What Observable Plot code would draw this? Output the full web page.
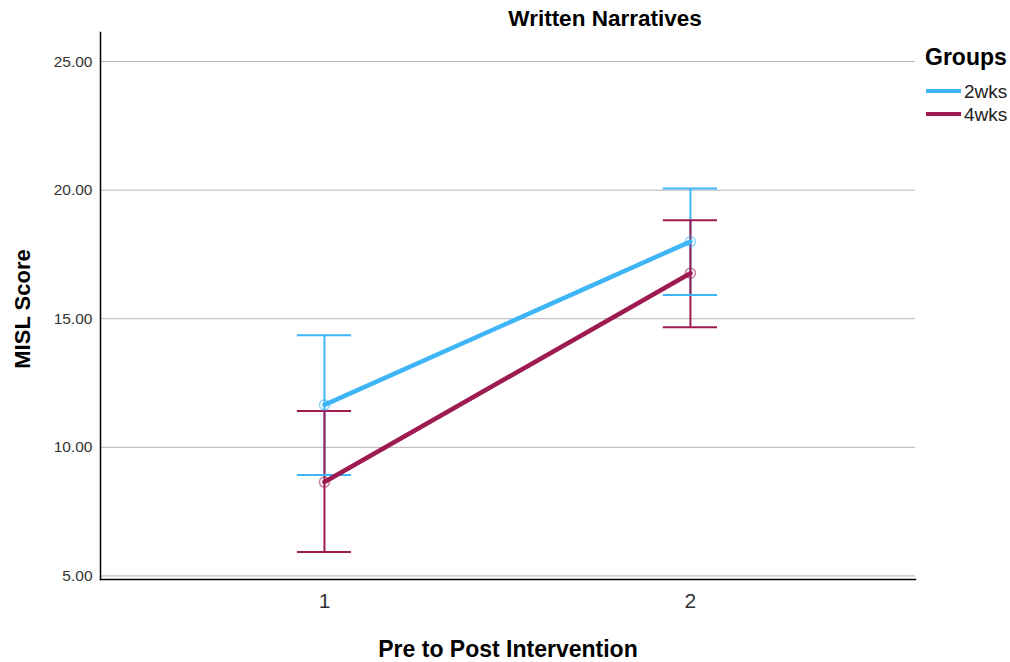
<!DOCTYPE html>
<html>
<head>
<meta charset="utf-8">
<script src="https://cdn.jsdelivr.net/npm/d3@7"></script>
<script src="https://cdn.jsdelivr.net/npm/@observablehq/plot@0.6"></script>
<style>
  html, body { margin: 0; padding: 0; background: #fff; }
  #chart { width: 1010px; height: 662px; }
</style>
</head>
<body>
<div id="chart"></div>
<script>
const groups = ["2wks", "4wks"];
const colors = ["#3db5f7", "#9e1b52"];
const times = [1, 2];
const means2wks = [11.65, 18.0];
const lower2wks = [8.92, 15.92];
const upper2wks = [14.36, 20.06];
const means4wks = [8.65, 16.77];
const lower4wks = [5.93, 14.67];
const upper4wks = [11.41, 18.83];
const yTicks = [5, 10, 15, 20, 25];
const xTicks = [1, 2];

const title = "Written Narratives";
const xLabel = "Pre to Post Intervention";
const yLabel = "MISL Score";
const legendTitle = "Groups";

const rows = [];
times.forEach((t, i) => {
  rows.push({group: "2wks", t, mean: means2wks[i], lo: lower2wks[i], hi: upper2wks[i]});
});
times.forEach((t, i) => {
  rows.push({group: "4wks", t, mean: means4wks[i], lo: lower4wks[i], hi: upper4wks[i]});
});

const capHalf = 0.074;
const font = "'Liberation Sans', Arial, sans-serif";

const plot = Plot.plot({
  width: 1010,
  height: 662,
  marginLeft: 100,
  marginRight: 95,
  marginTop: 32,
  marginBottom: 83,
  style: {fontFamily: font, background: "#fff"},
  x: {domain: [0.388, 2.615], ticks: xTicks, tickFormat: d => String(d), tickSize: 0, tickPadding: 16, label: null},
  y: {domain: [4.86, 26.13], ticks: yTicks, tickFormat: d3.format(".2f"), tickSize: 0, tickPadding: 8, label: null},
  color: {domain: groups, range: colors},
  marks: [
    Plot.ruleY(yTicks, {stroke: "#b3b3b3", strokeWidth: 1}),
    Plot.axisY({ticks: yTicks, tickFormat: d3.format(".2f"), tickSize: 0, tickPadding: 8, fontSize: 15.5, fill: "#333", label: null}),
    Plot.axisX({ticks: xTicks, tickFormat: d => String(d), tickSize: 0, tickPadding: 14, fontSize: 21, fill: "#333", label: null}),
    Plot.frame({anchor: "left", stroke: "#000", strokeWidth: 1.5}),
    Plot.frame({anchor: "bottom", stroke: "#000", strokeWidth: 1.5}),
    // error bars
    Plot.ruleX(rows, {x: "t", y1: "lo", y2: "hi", stroke: "group", strokeWidth: 2}),
    Plot.ruleY(rows, {y: "hi", x1: d => d.t - capHalf, x2: d => d.t + capHalf, stroke: "group", strokeWidth: 2}),
    Plot.ruleY(rows, {y: "lo", x1: d => d.t - capHalf, x2: d => d.t + capHalf, stroke: "group", strokeWidth: 2}),
    // mean lines
    Plot.line(rows, {x: "t", y: "mean", z: "group", stroke: "group", strokeWidth: 4.5}),
    Plot.dot(rows, {x: "t", y: "mean", stroke: "group", fill: "none", r: 5, strokeWidth: 1.6, strokeOpacity: 0.55})
  ]
});

const svg = d3.select(plot);
svg.append("text")
  .attr("x", 605).attr("y", 26)
  .attr("text-anchor", "middle")
  .attr("font-family", font).attr("font-weight", "bold").attr("font-size", 22.5)
  .attr("fill", "#000")
  .text(title);
svg.append("text")
  .attr("x", 508).attr("y", 657)
  .attr("text-anchor", "middle")
  .attr("font-family", font).attr("font-weight", "bold").attr("font-size", 23)
  .attr("fill", "#000")
  .text(xLabel);
svg.append("text")
  .attr("transform", "translate(30,309) rotate(-90)")
  .attr("text-anchor", "middle")
  .attr("font-family", font).attr("font-weight", "bold").attr("font-size", 22)
  .attr("fill", "#000")
  .text(yLabel);

// legend
const lg = svg.append("g").attr("text-anchor", "start");
lg.append("text")
  .attr("x", 925).attr("y", 65)
  .attr("text-anchor", "start")
  .attr("font-family", font).attr("font-weight", "bold").attr("font-size", 23)
  .attr("fill", "#000")
  .text(legendTitle);
groups.forEach((g, i) => {
  const y = 91 + i * 23;
  lg.append("line")
    .attr("x1", 926).attr("x2", 961).attr("y1", y).attr("y2", y)
    .attr("stroke", colors[i]).attr("stroke-width", 4);
  lg.append("text")
    .attr("x", 964).attr("y", y + 7)
    .attr("text-anchor", "start")
    .attr("font-family", font).attr("font-size", 19)
    .attr("fill", "#222")
    .text(g);
});

document.getElementById("chart").appendChild(plot);
</script>
</body>
</html>
